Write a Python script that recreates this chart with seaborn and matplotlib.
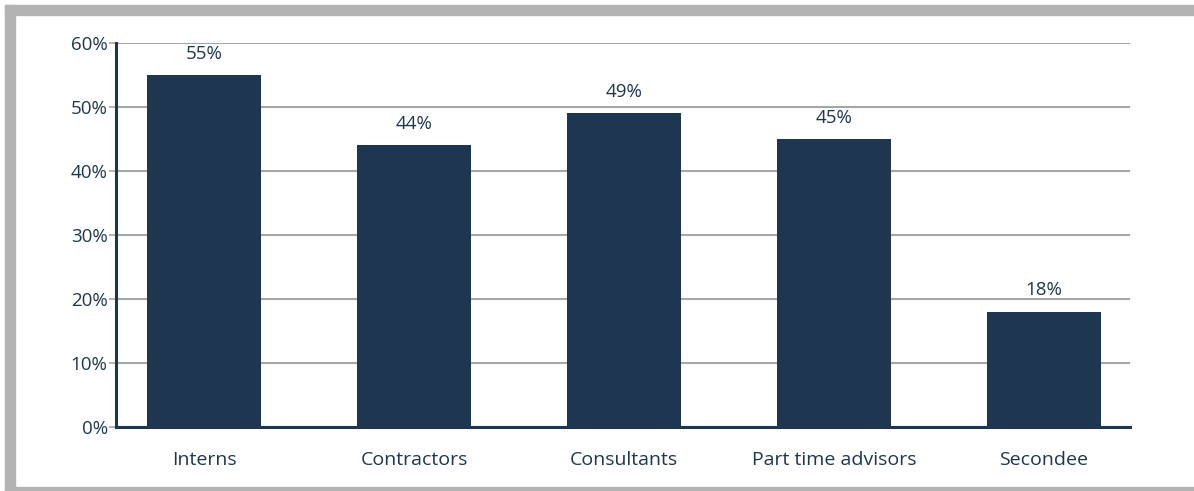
import matplotlib
matplotlib.use("Agg")
import matplotlib.pyplot as plt
import seaborn as sns
import pandas as pd
from matplotlib.patches import Rectangle

categories = ["Interns", "Contractors", "Consultants", "Part time advisors", "Secondee"]
values = [55, 44, 49, 45, 18]
y_ticks = [0, 10, 20, 30, 40, 50, 60]

navy = "#1f3651"
grid_gray = "#a6a6a6"
frame_gray = "#b3b3b3"

sns.set_theme(style="white")
plt.rcParams["font.family"] = ["Open Sans", "DejaVu Sans"]

df = pd.DataFrame({"category": categories, "value": values})

fig = plt.figure(figsize=(11.94, 4.91), dpi=100)
ax = fig.add_axes([116 / 1194, 1 - 427 / 491, (1130 - 116) / 1194, (427 - 43) / 491])

sns.barplot(data=df, x="category", y="value", color=navy, saturation=1,
            width=0.543, linewidth=0, edgecolor="none", ax=ax, zorder=3)

ax.set_xlim(-0.42, 4.41)
ax.set_ylim(0, 60)
ax.set_yticks(y_ticks)
ax.set_yticklabels([f"{t}%" for t in y_ticks])
ax.set_xlabel("")
ax.set_ylabel("")

ax.yaxis.grid(True, color=grid_gray, linewidth=1.5, zorder=0)
ax.set_axisbelow(True)

for side in ["top", "right"]:
    ax.spines[side].set_visible(False)
for side in ["left", "bottom"]:
    ax.spines[side].set_color(navy)
    ax.spines[side].set_linewidth(2.2)
    ax.spines[side].set_zorder(4)

ax.tick_params(axis="y", left=True, length=5, width=1.2, color=grid_gray,
               labelsize=13.5, labelcolor=navy, pad=1)
ax.tick_params(axis="x", bottom=False, labelsize=14, labelcolor=navy, pad=11)

for cont in ax.containers:
    ax.bar_label(cont, labels=[f"{v}%" for v in values], padding=9,
                 fontsize=13.5, color=navy)

# grey frame around the chart
fig.patches.append(Rectangle((5 / 1194, 1 - 15 / 491), 1, 10 / 491,
                             transform=fig.transFigure, color=frame_gray, zorder=0))
fig.patches.append(Rectangle((5 / 1194, 0), 10 / 1194, 1 - 5 / 491,
                             transform=fig.transFigure, color=frame_gray, zorder=0))
fig.patches.append(Rectangle((5 / 1194, 0), 1, 4 / 491,
                             transform=fig.transFigure, color=frame_gray, zorder=0))

fig.savefig("out.png", dpi=100)
